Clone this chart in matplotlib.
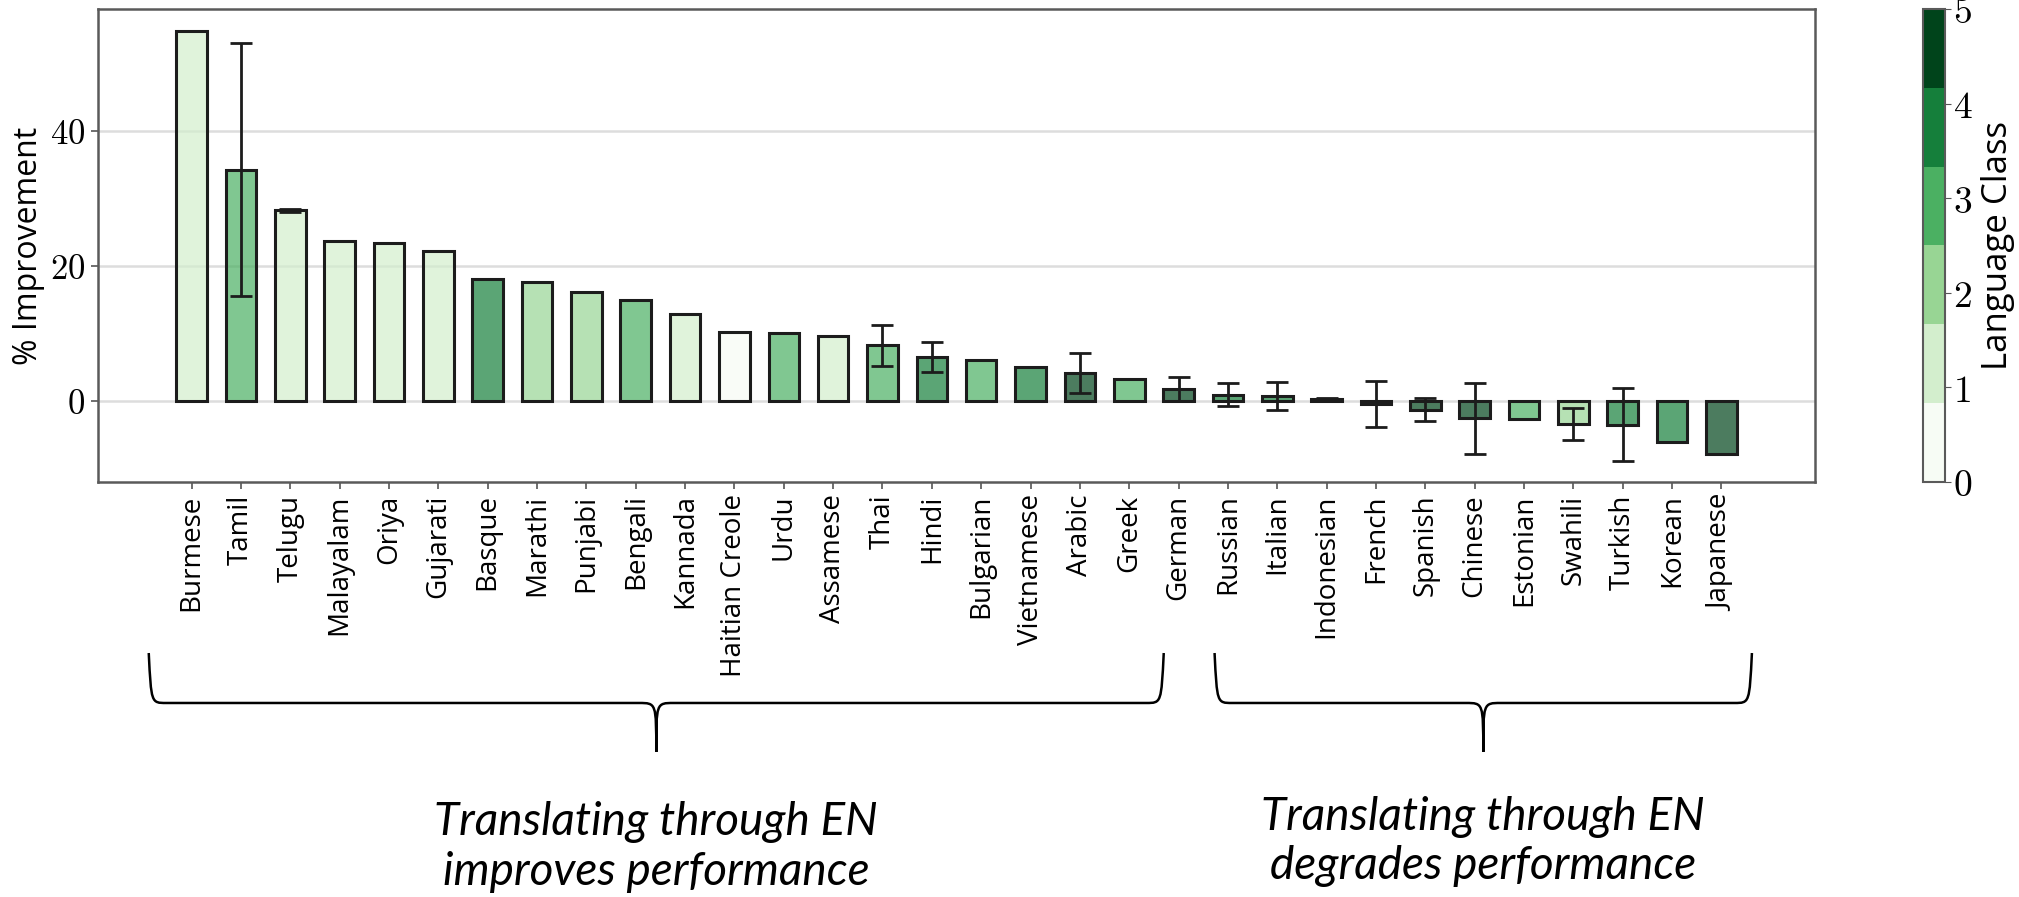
import numpy as np
import matplotlib
matplotlib.use("Agg")
import matplotlib.pyplot as plt
import matplotlib.ticker as mticker
import matplotlib.transforms as mtransforms
from matplotlib.colors import Normalize, to_rgba
from matplotlib.cm import ScalarMappable
from matplotlib.path import Path
from matplotlib.patches import PathPatch

plt.rcParams['mathtext.fontset'] = 'cm'
plt.rcParams['font.family'] = ['Open Sans', 'DejaVu Sans']

languages = ['Burmese', 'Tamil', 'Telugu', 'Malayalam', 'Oriya', 'Gujarati', 'Basque',
             'Marathi', 'Punjabi', 'Bengali', 'Kannada', 'Haitian Creole', 'Urdu',
             'Assamese', 'Thai', 'Hindi', 'Bulgarian', 'Vietnamese', 'Arabic', 'Greek',
             'German', 'Russian', 'Italian', 'Indonesian', 'French', 'Spanish', 'Chinese',
             'Estonian', 'Swahili', 'Turkish', 'Korean', 'Japanese']
improvement = [54.8, 34.2, 28.2, 23.6, 23.3, 22.2, 18.0, 17.6, 16.1, 15.0, 12.9, 10.2, 10.0,
               9.6, 8.2, 6.5, 6.0, 5.0, 4.1, 3.25, 1.8, 0.9, 0.7, 0.3, -0.45, -1.3, -2.6,
               -2.7, -3.4, -3.5, -6.1, -7.9]
# 0 means no error bar for that language
std_err = [0, 18.7, 0.2, 0, 0, 0, 0, 0, 0, 0, 0, 0, 0,
           0, 3.0, 2.2, 0, 0, 3.0, 0, 1.8, 1.7, 2.1, 0.1, 3.45, 1.75, 5.3,
           0, 2.35, 5.35, 0, 0]
lang_class = [1, 3, 1, 1, 1, 1, 4, 2, 2, 3, 1, 0, 3, 1, 3, 4, 3, 4, 5, 3,
              5, 4, 4, 3, 5, 5, 5, 3, 2, 4, 4, 5]

group_text = ['Translating through EN\nimproves performance',
              'Translating through EN\ndegrades performance']
group_span = [('Burmese', 'Greek'), ('Russian', 'Japanese')]

cmap = plt.get_cmap('Greens', 6)
norm = Normalize(0, 5)

fig = plt.figure(figsize=(20.19, 8.97), dpi=100)
ax = fig.add_axes([0.0485, 0.4627, 0.8505, 0.5273])
cax = fig.add_axes([0.9524, 0.4627, 0.0109, 0.5273])

x = np.arange(len(languages))
imp = np.array(improvement)
err = np.array(std_err)
face = [to_rgba(cmap(norm(c)), 0.7) for c in lang_class]
ax.bar(x, imp, width=0.62, color=face, edgecolor='#1c1c1c', linewidth=2.2, zorder=2)
has_err = err > 0
ax.errorbar(x[has_err], imp[has_err], yerr=err[has_err], fmt='none', ecolor='#1c1c1c',
            elinewidth=2, capsize=8, capthick=2, zorder=3)

ax.set_xlim(-1.9, 32.9)
ax.set_ylim(-12, 58)
ax.set_xticks(x)
ax.set_xticklabels(languages, rotation=90, fontsize=20)
ax.set_yticks([0, 20, 40])
ax.yaxis.set_major_formatter(mticker.FuncFormatter(lambda v, p: r'$%d$' % v))
ax.tick_params(axis='y', labelsize=25, length=5, width=1.2, color='#555555', pad=4)
ax.tick_params(axis='x', length=5, width=1.2, color='#555555', pad=4)
ax.set_ylabel('% Improvement', fontsize=23, labelpad=4)
ax.yaxis.grid(True, color='#dddddd', linewidth=1.8)
ax.set_axisbelow(True)
for s in ax.spines.values():
    s.set_color('#5a5a5a')
    s.set_linewidth(1.8)

cb = fig.colorbar(ScalarMappable(norm=norm, cmap=cmap), cax=cax)
cb.set_ticks([0, 1, 2, 3, 4, 5])
cb.ax.yaxis.set_major_formatter(mticker.FuncFormatter(lambda v, p: r'$%d$' % v))
cb.ax.tick_params(labelsize=27, length=4, color='#555555', pad=2)
cb.outline.set_edgecolor('#5a5a5a')
cb.outline.set_linewidth(1.5)
cb.set_label('Language Class', fontsize=25, labelpad=6)

# curly braces under the tick labels, x in data units, y in figure fraction
trans = mtransforms.blended_transform_factory(ax.transData, fig.transFigure)
y_top, y_mid, y_tip = 0.272, 0.2163, 0.1617
brace_pad = [(0.87, 0.7), (0.27, 0.62)]
text_y = [0.056, 0.062]
for text, (first, last), (pl, pr), ty in zip(group_text, group_span, brace_pad, text_y):
    x0 = languages.index(first) - pl
    x1 = languages.index(last) + pr
    xm = (x0 + x1) / 2
    d = 0.35
    verts = [(x0, y_top), (x0 + 0.05, y_mid), (x0 + 0.05, y_mid), (x0 + d, y_mid),
             (xm - d, y_mid),
             (xm, y_mid), (xm, y_mid), (xm, y_tip),
             (xm, y_mid), (xm, y_mid), (xm + d, y_mid),
             (x1 - d, y_mid),
             (x1 - 0.05, y_mid), (x1 - 0.05, y_mid), (x1, y_top)]
    codes = [Path.MOVETO, Path.CURVE4, Path.CURVE4, Path.CURVE4,
             Path.LINETO,
             Path.CURVE4, Path.CURVE4, Path.CURVE4,
             Path.CURVE4, Path.CURVE4, Path.CURVE4,
             Path.LINETO,
             Path.CURVE4, Path.CURVE4, Path.CURVE4]
    brace = PathPatch(Path(verts, codes), transform=trans, facecolor='none',
                      edgecolor='black', linewidth=1.8, clip_on=False)
    fig.add_artist(brace)
    fig.text(xm, ty, text, transform=trans, ha='center', va='center',
             fontsize=33, style='italic', family=['Lato', 'DejaVu Sans'],
             linespacing=1.22)

fig.savefig('out.png', dpi=100)
